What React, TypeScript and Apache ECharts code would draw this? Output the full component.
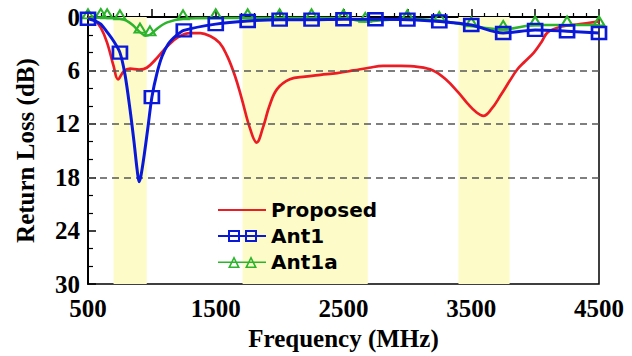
import React, { useEffect, useRef } from "react";
import * as echarts from "echarts";

// ---- data ----
const propFreq = [500, 550, 600, 650, 700, 735, 780, 830, 900, 960, 1040, 1120, 1200, 1300, 1380, 1450, 1530, 1590, 1650, 1700, 1770, 1820, 1870, 1920, 1980, 2080, 2200, 2320, 2450, 2580, 2700, 2810, 2950, 3080, 3200, 3300, 3400, 3470, 3540, 3595, 3660, 3730, 3800, 3860, 3920, 3990, 4050, 4100, 4200, 4350, 4500];
const propRL = [0, 0.3, 1.2, 2.9, 5.5, 7.0, 6.1, 5.8, 5.9, 5.7, 4.6, 3.3, 2.3, 1.8, 1.8, 2.1, 2.9, 4.4, 6.6, 9.0, 12.6, 14.1, 12.4, 10.0, 8.1, 7.0, 6.7, 6.5, 6.3, 6.0, 5.7, 5.5, 5.5, 5.6, 6.0, 7.0, 8.5, 9.7, 10.7, 11.1, 10.3, 8.8, 7.2, 5.9, 5.0, 4.0, 2.8, 1.7, 1.1, 0.8, 0.5];

const ant1Freq = [500, 550, 600, 650, 700, 750, 790, 830, 860, 885, 900, 915, 940, 970, 1000, 1040, 1080, 1130, 1190, 1250, 1500, 1750, 2000, 2250, 2500, 2750, 3000, 3250, 3500, 3750, 4000, 4250, 4500];
const ant1RL = [0.2, 0.4, 0.8, 1.7, 2.7, 4.0, 6.5, 10.5, 14.0, 17.2, 18.5, 17.8, 15.5, 12.3, 9.0, 6.3, 4.4, 3.0, 2.1, 1.5, 0.8, 0.45, 0.3, 0.3, 0.25, 0.25, 0.3, 0.5, 0.9, 1.8, 1.45, 1.6, 1.8];
const ant1Markers = [500, 750, 1000, 1250, 1500, 1750, 2000, 2250, 2500, 2750, 3000, 3250, 3500, 3750, 4000, 4250, 4500];

const ant1aFreq = [500, 600, 650, 750, 800, 850, 907, 950, 985, 1050, 1120, 1244, 1500, 1750, 2000, 2250, 2500, 2670, 3000, 3250, 3500, 3750, 4000, 4250, 4500];
const ant1aRL = [0.1, 0.05, 0.1, 0.2, 0.4, 0.9, 1.7, 2.1, 2.0, 1.2, 0.6, 0.2, 0.1, 0.1, 0.1, 0.1, 0.15, 0.5, 0.2, 0.4, 1.0, 1.4, 0.9, 0.9, 0.9];
const ant1aMarkers = [500, 600, 650, 750, 907, 985, 1244, 1500, 1750, 2000, 2250, 2500, 2670, 3000, 3250, 3500, 3750, 4000, 4250, 4500];

const bands = [[700, 960], [1710, 2690], [3400, 3800]];
const refLevels = [6, 12, 18];
const xTickLabels = [500, 1500, 2500, 3500, 4500];

const RED = "#ec1c24";
const BLUE = "#0a18d8";
const GREEN = "#2cb42c";

function buildData(freq: number[], rl: number[], markers: number[]) {
  return freq.map((f, i) =>
    markers.includes(f) ? { value: [f, rl[i]] } : { value: [f, rl[i]], symbol: "none" }
  );
}

const serif = "Liberation Serif";

export default function App() {
  const ref = useRef<HTMLDivElement>(null);
  useEffect(() => {
    if (!ref.current) return;
    const chart = echarts.init(ref.current, null, { renderer: "svg" });
    chart.setOption({
      animation: false,
      backgroundColor: "#fff",
      grid: {
        left: 88,
        right: 33,
        top: 17,
        bottom: 70,
        show: true,
        borderColor: "#000",
        borderWidth: 1.5,
        backgroundColor: "transparent",
      },
      legend: {
        orient: "vertical",
        left: 213,
        top: 195,
        itemWidth: 48,
        itemHeight: 14,
        itemGap: 6,
        symbolKeepAspect: true,
        textStyle: { fontFamily: "DejaVu Sans", fontWeight: "bold", fontSize: 20, color: "#000" },
        data: [
          {
            name: "Proposed",
            icon: "path://M0 6H48V8H0Z",
            itemStyle: { color: RED, borderWidth: 0 },
          },
          {
            name: "Ant1",
            icon:
              "path://M0 6H48V8H0Z M10 1H22V13H10Z M12 3V11H20V3Z M27 1H39V13H27Z M29 3V11H37V3Z M0 0H0.01V14H0Z",
            itemStyle: { color: BLUE, borderWidth: 0 },
          },
          {
            name: "Ant1a",
            icon:
              "path://M0 6.5H48V8H0Z M16 1L22 13H10Z M16 4.6L12.6 11.4H19.4Z M33 1L39 13H27Z M33 4.6L29.6 11.4H36.4Z M0 0H0.01V14H0Z",
            itemStyle: { color: GREEN, borderWidth: 0 },
          },
        ],
      },
      xAxis: {
        type: "value",
        min: 500,
        max: 4500,
        interval: 500,
        name: "Frequency (MHz)",
        nameLocation: "middle",
        nameGap: 40,
        nameTextStyle: { fontFamily: serif, fontWeight: "bold", fontSize: 25, color: "#000" },
        axisLine: { show: true, lineStyle: { color: "#000", width: 2 } },
        axisTick: { show: true, inside: true, length: 8, lineStyle: { color: "#000", width: 1.5 } },
        minorTick: { show: true, splitNumber: 5, length: 4, lineStyle: { color: "#000", width: 1.2 } },
        splitLine: { show: false },
        axisLabel: {
          margin: 12,
          fontFamily: serif,
          fontWeight: "bold",
          fontSize: 25,
          color: "#000",
          formatter: (v: number) => (xTickLabels.includes(v) ? String(v) : ""),
        },
      },
      yAxis: {
        type: "value",
        inverse: true,
        min: 0,
        max: 30,
        interval: 6,
        name: "Return Loss (dB)",
        nameLocation: "middle",
        nameGap: 50,
        nameTextStyle: { fontFamily: serif, fontWeight: "bold", fontSize: 25, color: "#000" },
        axisLine: { show: true, lineStyle: { color: "#000", width: 2 } },
        axisTick: { show: true, inside: true, length: 8, lineStyle: { color: "#000", width: 1.5 } },
        minorTick: { show: true, splitNumber: 3, length: 5, lineStyle: { color: "#000", width: 1.2 } },
        splitLine: { show: false },
        axisLabel: { margin: 8, fontFamily: serif, fontWeight: "bold", fontSize: 25, color: "#000" },
      },
      series: [
        {
          name: "bands",
          type: "line",
          data: [],
          z: 1,
          silent: true,
          markArea: {
            silent: true,
            itemStyle: { color: "#fdfcc9" },
            data: bands.map(([a, b]) => [{ xAxis: a }, { xAxis: b }]),
          },
          markLine: {
            silent: true,
            symbol: "none",
            label: { show: false },
            lineStyle: { type: [7, 5], color: "#555", width: 1.5 },
            data: refLevels.map((v) => ({ yAxis: v })),
          },
        },
        {
          name: "Proposed",
          type: "line",
          z: 3,
          clip: false,
          smooth: 0.4,
          symbol: "none",
          lineStyle: { color: RED, width: 2.7 },
          itemStyle: { color: RED },
          data: propFreq.map((f, i) => [f, propRL[i]]),
        },
        {
          name: "Ant1a",
          type: "line",
          z: 4,
          clip: false,
          smooth: 0.3,
          symbol: "triangle",
          symbolSize: [11, 9],
          symbolOffset: [0, -4],
          showAllSymbol: true,
          lineStyle: { color: GREEN, width: 2.5 },
          itemStyle: { color: "rgba(0,0,0,0)", borderColor: GREEN, borderWidth: 2 },
          data: buildData(ant1aFreq, ant1aRL, ant1aMarkers),
        },
        {
          name: "Ant1",
          type: "line",
          z: 5,
          clip: false,
          smooth: 0.3,
          symbol: "rect",
          symbolSize: [14, 12],
          showAllSymbol: true,
          lineStyle: { color: BLUE, width: 3 },
          itemStyle: { color: "rgba(0,0,0,0)", borderColor: BLUE, borderWidth: 2.5 },
          data: buildData(ant1Freq, ant1RL, ant1Markers),
        },
      ],
    });
    return () => chart.dispose();
  }, []);
  return (
    <div
      ref={ref}
      style={{ position: "fixed", left: 0, top: 0, width: 632, height: 356, background: "#fff" }}
    />
  );
}
